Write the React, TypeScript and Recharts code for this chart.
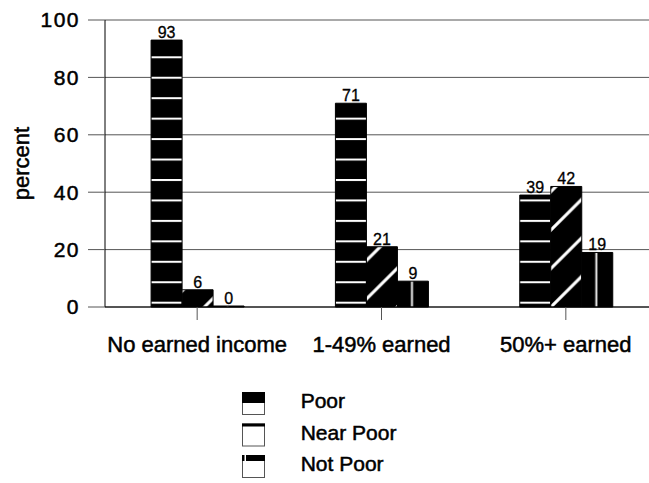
import React from 'react';
import {
  BarChart,
  Bar,
  XAxis,
  YAxis,
  CartesianGrid,
  LabelList,
  Legend,
} from 'recharts';

const categories = ['No earned income', '1-49% earned', '50%+ earned'];
const poor = [93, 71, 39];
const nearPoor = [6, 21, 42];
const notPoor = [0, 9, 19];
const yTicks = [0, 20, 40, 60, 80, 100];
const seriesNames = ['Poor', 'Near Poor', 'Not Poor'];

const FONT = '"Liberation Sans", Arial, sans-serif';
// the source text is heavier than regular Arial, a thin outline gets close
const HEAVY = { stroke: '#000', strokeWidth: 0.5 };

const data = categories.map((name, i) => ({
  name,
  poor: poor[i],
  nearPoor: nearPoor[i],
  notPoor: notPoor[i],
}));

// swatches in the legend look like clipped pattern samples, so draw them by hand
const LegendBox = () => (
  <svg width={200} height={100} style={{ display: 'block', overflow: 'visible' }}>
    {seriesNames.map((n, i) => {
      const top = 7.5 + i * 31.5;
      return (
        <g key={n}>
          <rect x={4.5} y={top} width={22} height={22} fill="#fff" stroke="#555" />
          {i === 0 && <rect x={4} y={top - 0.5} width={23} height={11} fill="#000" />}
          {i === 1 && <rect x={4} y={top - 0.5} width={23} height={3} fill="#000" />}
          {i === 2 && (
            <>
              <rect x={4} y={top - 0.5} width={23} height={6} fill="#000" />
              <rect x={6.5} y={top - 0.5} width={1.5} height={6} fill="#fff" />
            </>
          )}
          <text x={62.7} y={top + 15.5} fontSize={21} fontFamily={FONT} fill="#000" {...HEAVY}>
            {n}
          </text>
        </g>
      );
    })}
  </svg>
);

const PercentLabel = () => (
  <text
    x={28.5}
    y={163.5}
    transform="rotate(-90 28.5 163.5)"
    textAnchor="middle"
    fontSize={22}
    fontFamily={FONT}
    fill="#000"
    {...HEAVY}
  >
    percent
  </text>
);

const labelStyle = { fill: '#000', fontSize: 16, fontFamily: FONT, ...HEAVY, strokeWidth: 0.3 };

export default function App() {
  return (
    <div
      style={{
        position: 'fixed',
        left: 0,
        top: 0,
        width: 649,
        height: 483,
        overflow: 'hidden',
        background: '#fff',
      }}
    >
      <BarChart
        width={700}
        height={483}
        data={data}
        margin={{ top: 20, right: 42, bottom: 116, left: 0 }}
        barCategoryGap="25%"
        barGap={0}
        style={{ fontFamily: FONT }}
      >
        <defs>
          <pattern id="pat-poor" patternUnits="userSpaceOnUse" x={0} y={56.3} width={10} height={20.45}>
            <rect width={10} height={20.45} fill="#000" />
            <rect y={0} width={10} height={2} fill="#fff" />
          </pattern>
          <pattern id="pat-near" patternUnits="userSpaceOnUse" x={11} y={0} width={38.5} height={38.5}>
            <rect width={38.5} height={38.5} fill="#000" />
            <path
              d="M-2,40.5 L40.5,-2 M-2,2 L2,-2 M36.5,40.5 L40.5,36.5"
              stroke="#fff"
              strokeWidth={3}
            />
          </pattern>
          <pattern
            id="pat-not"
            patternUnits="objectBoundingBox"
            patternContentUnits="objectBoundingBox"
            width={1}
            height={1}
          >
            <rect width={1} height={1} fill="#000" />
            <rect x={0.44} width={0.06} height={1} fill="#fff" />
          </pattern>
        </defs>
        <CartesianGrid vertical={false} stroke="#555" />
        <XAxis
          dataKey="name"
          interval={0}
          height={60}
          tickSize={13}
          tickMargin={16}
          axisLine={{ stroke: '#000' }}
          tickLine={{ stroke: '#555' }}
          tick={{ fontSize: 22, fill: '#000', fontFamily: FONT, ...HEAVY }}
        />
        <YAxis
          width={105}
          domain={[0, 100]}
          ticks={yTicks}
          tickSize={17}
          tickMargin={8}
          axisLine={{ stroke: '#000' }}
          tickLine={{ stroke: '#555' }}
          tick={{ fontSize: 21, fill: '#000', fontFamily: FONT, letterSpacing: 1.5, ...HEAVY }}
          label={{ content: () => <PercentLabel /> }}
        />
        <Legend
          layout="horizontal"
          verticalAlign="middle"
          align="center"
          content={() => <LegendBox />}
          wrapperStyle={{ left: 238, top: 385, width: 200, height: 98 }}
        />
        <Bar dataKey="poor" name="Poor" fill="url(#pat-poor)" stroke="#000" isAnimationActive={false}>
          <LabelList dataKey="poor" position="top" offset={2} {...labelStyle} />
        </Bar>
        <Bar dataKey="nearPoor" name="Near Poor" fill="url(#pat-near)" stroke="#000" isAnimationActive={false}>
          <LabelList dataKey="nearPoor" position="top" offset={2} {...labelStyle} />
        </Bar>
        <Bar
          dataKey="notPoor"
          name="Not Poor"
          fill="url(#pat-not)"
          stroke="#000"
          minPointSize={1}
          isAnimationActive={false}
        >
          <LabelList dataKey="notPoor" position="top" offset={2} {...labelStyle} />
        </Bar>
      </BarChart>
    </div>
  );
}
